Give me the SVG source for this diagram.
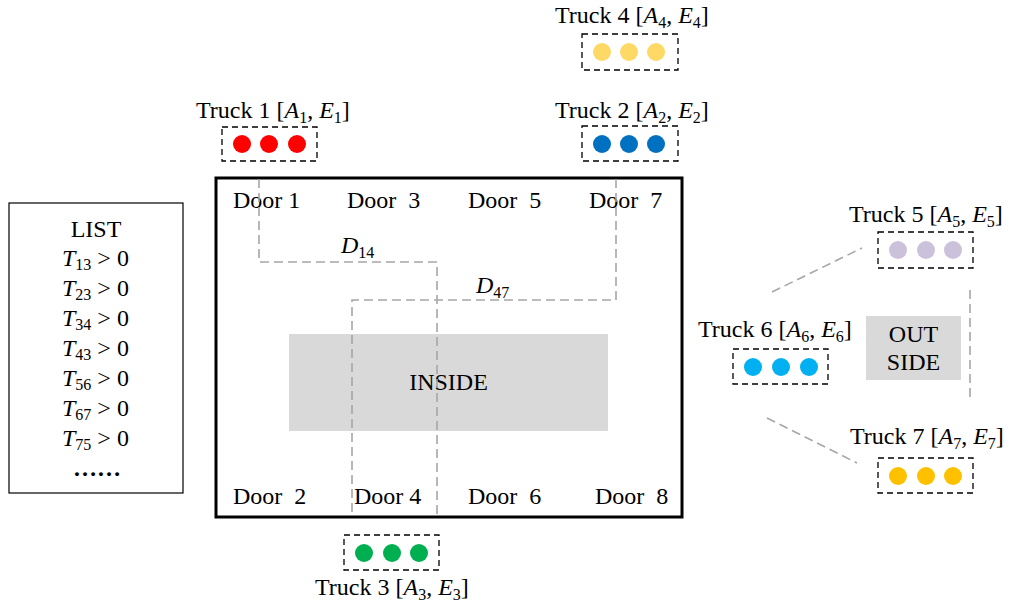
<svg xmlns="http://www.w3.org/2000/svg" width="1013" height="606" viewBox="0 0 1013 606">
<style>
text{font-family:"Liberation Serif","Times New Roman",serif;font-size:24px;fill:#000;white-space:pre}
.i{font-style:italic}
.s{font-size:16px}
.tb{fill:none;stroke:#000;stroke-width:1.3;stroke-dasharray:6,4}
.dl{fill:none;stroke:#a6a6a6;stroke-width:1.6;stroke-dasharray:9,5}
</style>
<rect width="1013" height="606" fill="#fff"/>
<g id="list">
<rect x="9" y="203" width="174" height="290" fill="none" stroke="#000" stroke-width="1.2"/>
<text x="96" y="237" text-anchor="middle">LIST</text>
<text x="62" y="266"><tspan class="i">T</tspan><tspan class="s" dy="4">13</tspan><tspan dy="-4"> &gt; 0</tspan></text>
<text x="62" y="296"><tspan class="i">T</tspan><tspan class="s" dy="4">23</tspan><tspan dy="-4"> &gt; 0</tspan></text>
<text x="62" y="326"><tspan class="i">T</tspan><tspan class="s" dy="4">34</tspan><tspan dy="-4"> &gt; 0</tspan></text>
<text x="62" y="356"><tspan class="i">T</tspan><tspan class="s" dy="4">43</tspan><tspan dy="-4"> &gt; 0</tspan></text>
<text x="62" y="386"><tspan class="i">T</tspan><tspan class="s" dy="4">56</tspan><tspan dy="-4"> &gt; 0</tspan></text>
<text x="62" y="416"><tspan class="i">T</tspan><tspan class="s" dy="4">67</tspan><tspan dy="-4"> &gt; 0</tspan></text>
<text x="62" y="446"><tspan class="i">T</tspan><tspan class="s" dy="4">75</tspan><tspan dy="-4"> &gt; 0</tspan></text>
<text x="97" y="476" text-anchor="middle" font-weight="bold">……</text>
</g>
<g id="warehouse">
<rect x="216" y="178" width="466" height="339" fill="none" stroke="#000" stroke-width="3"/>
<text x="233" y="208">Door 1</text>
<text x="347" y="208">Door  3</text>
<text x="468" y="208">Door  5</text>
<text x="589" y="208">Door  7</text>
<text x="233" y="504">Door  2</text>
<text x="354" y="504">Door 4</text>
<text x="468" y="504">Door  6</text>
<text x="595" y="504">Door  8</text>
</g>
<g id="inside">
<rect x="289" y="334" width="319" height="97" fill="#d9d9d9"/>
<text x="448.5" y="390" text-anchor="middle">INSIDE</text>
</g>
<g id="outside">
<rect x="866" y="316" width="95" height="64" fill="#d9d9d9"/>
<text x="913.5" y="342" text-anchor="middle">OUT</text>
<text x="913.5" y="370" text-anchor="middle">SIDE</text>
</g>
<g id="connectors">
<path class="dl" d="M259 179 V262 H437 V516"/>
<path class="dl" d="M616 179 V300 H352 V516"/>
<path class="dl" d="M772 292 L862 248"/>
<path class="dl" d="M970 290 V402"/>
<path class="dl" d="M767 418 L857 463"/>
<text x="341" y="253"><tspan class="i">D</tspan><tspan class="s" dy="5">14</tspan></text>
<text x="476" y="293"><tspan class="i">D</tspan><tspan class="s" dy="5">47</tspan></text>
</g>
<g id="truck1">
<text x="196" y="118">Truck 1 [<tspan class="i">A</tspan><tspan class="s" dy="5">1</tspan><tspan dy="-5">, </tspan><tspan class="i">E</tspan><tspan class="s" dy="5">1</tspan><tspan dy="-5">]</tspan></text>
<rect class="tb" x="222" y="127" width="95" height="34"/>
<g fill="#ff0000"><circle cx="242" cy="144" r="9"/><circle cx="269" cy="144" r="9"/><circle cx="297" cy="144" r="9"/></g>
</g>
<g id="truck2">
<text x="555" y="118">Truck 2 [<tspan class="i">A</tspan><tspan class="s" dy="5">2</tspan><tspan dy="-5">, </tspan><tspan class="i">E</tspan><tspan class="s" dy="5">2</tspan><tspan dy="-5">]</tspan></text>
<rect class="tb" x="582" y="126" width="96" height="35"/>
<g fill="#0070c0"><circle cx="602" cy="144" r="9"/><circle cx="629" cy="144" r="9"/><circle cx="656" cy="144" r="9"/></g>
</g>
<g id="truck4">
<text x="555" y="23">Truck 4 [<tspan class="i">A</tspan><tspan class="s" dy="5">4</tspan><tspan dy="-5">, </tspan><tspan class="i">E</tspan><tspan class="s" dy="5">4</tspan><tspan dy="-5">]</tspan></text>
<rect class="tb" x="582" y="34" width="96" height="36"/>
<g fill="#ffd966"><circle cx="602" cy="52" r="9"/><circle cx="629" cy="52" r="9"/><circle cx="656" cy="52" r="9"/></g>
</g>
<g id="truck3">
<rect class="tb" x="344" y="535" width="95" height="35"/>
<g fill="#00b050"><circle cx="364" cy="553" r="9"/><circle cx="392" cy="553" r="9"/><circle cx="419" cy="553" r="9"/></g>
<text x="315" y="595">Truck 3 [<tspan class="i">A</tspan><tspan class="s" dy="5">3</tspan><tspan dy="-5">, </tspan><tspan class="i">E</tspan><tspan class="s" dy="5">3</tspan><tspan dy="-5">]</tspan></text>
</g>
<g id="truck5">
<text x="849" y="222">Truck 5 [<tspan class="i">A</tspan><tspan class="s" dy="5">5</tspan><tspan dy="-5">, </tspan><tspan class="i">E</tspan><tspan class="s" dy="5">5</tspan><tspan dy="-5">]</tspan></text>
<rect class="tb" x="878" y="232" width="95" height="36"/>
<g fill="#ccc1da"><circle cx="898" cy="250" r="9"/><circle cx="926" cy="250" r="9"/><circle cx="953" cy="250" r="9"/></g>
</g>
<g id="truck6">
<text x="698" y="337">Truck 6 [<tspan class="i">A</tspan><tspan class="s" dy="5">6</tspan><tspan dy="-5">, </tspan><tspan class="i">E</tspan><tspan class="s" dy="5">6</tspan><tspan dy="-5">]</tspan></text>
<rect class="tb" x="733" y="349" width="95" height="35"/>
<g fill="#00b0f0"><circle cx="753" cy="367" r="9"/><circle cx="781" cy="367" r="9"/><circle cx="809" cy="367" r="9"/></g>
</g>
<g id="truck7">
<text x="850" y="444">Truck 7 [<tspan class="i">A</tspan><tspan class="s" dy="5">7</tspan><tspan dy="-5">, </tspan><tspan class="i">E</tspan><tspan class="s" dy="5">7</tspan><tspan dy="-5">]</tspan></text>
<rect class="tb" x="878" y="458" width="95" height="35"/>
<g fill="#ffc000"><circle cx="898" cy="476" r="9"/><circle cx="926" cy="476" r="9"/><circle cx="953" cy="476" r="9"/></g>
</g>
</svg>
